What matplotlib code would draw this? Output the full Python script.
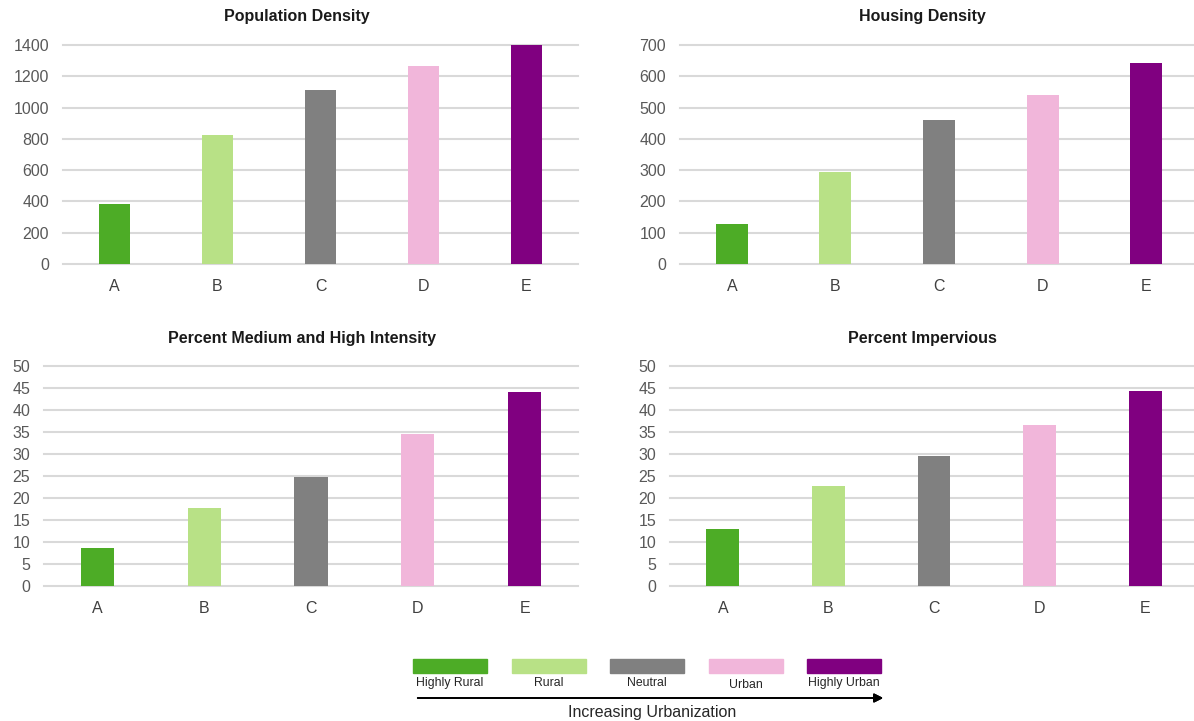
import matplotlib.pyplot as plt
from matplotlib.patches import Rectangle

plt.rcParams['font.family'] = ['Liberation Sans', 'DejaVu Sans']

categories = ['A', 'B', 'C', 'D', 'E']
class_names = ['Highly Rural', 'Rural', 'Neutral', 'Urban', 'Highly Urban']
colors = ['#4dac26', '#b8e186', '#808080', '#f1b6da', '#800080']

population_density = [383, 826, 1111, 1265, 1400]
housing_density = [128, 295, 461, 541, 643]
pct_med_high = [8.6, 17.7, 24.8, 34.5, 44.2]
pct_impervious = [13.0, 22.8, 29.5, 36.5, 44.4]

W, H = 1194, 721
fig = plt.figure(figsize=(W / 100, H / 100), dpi=100)


def px_axes(left, right, top, bottom):
    return fig.add_axes([left / W, 1 - bottom / H, (right - left) / W, (bottom - top) / H])


def bar_panel(ax, values, ymax, step):
    ax.bar(range(len(categories)), values, width=0.31, color=colors, zorder=3)
    ax.set_xlim(-0.5, len(categories) - 0.5)
    ax.set_ylim(0, ymax)
    ax.set_yticks(range(0, ymax + 1, step))
    ax.set_xticks(range(len(categories)))
    ax.set_xticklabels(categories)
    for s in ax.spines.values():
        s.set_visible(False)
    ax.tick_params(axis='y', length=0, pad=10, labelsize=11.5, labelcolor='#595959')
    ax.tick_params(axis='x', length=0, pad=11, labelsize=11.5, labelcolor='#404040')
    ax.yaxis.grid(True, color='#d9d9d9', linewidth=1.5, zorder=0)
    ax.set_axisbelow(True)
    for gl in ax.get_ygridlines():
        gl.set_clip_on(False)


ax1 = px_axes(63, 578, 45, 264)
bar_panel(ax1, population_density, 1400, 200)
ax2 = px_axes(680, 1198, 45, 264)
bar_panel(ax2, housing_density, 700, 100)
ax3 = px_axes(44, 578, 366, 586)
bar_panel(ax3, pct_med_high, 50, 5)
ax4 = px_axes(670, 1198, 366, 586)
bar_panel(ax4, pct_impervious, 50, 5)

titles = [('Population Density', 297, 17), ('Housing Density', 922, 17),
          ('Percent Medium and High Intensity', 302, 338), ('Percent Impervious', 922, 338)]
for t, x, y in titles:
    fig.text(x / W, 1 - y / H, t, ha='center', va='center', fontsize=11.5,
             fontweight='bold', color='#1a1a1a')

# urbanization key along the bottom
lx = [413, 512, 610, 709, 807]
for x0, c, name in zip(lx, colors, class_names):
    fig.patches.append(Rectangle((x0 / W, 1 - 673 / H), 74 / W, 14 / H,
                                 transform=fig.transFigure, color=c))
    ty = 685 if name == 'Urban' else 683
    fig.text((x0 + 37) / W, 1 - ty / H, name, ha='center', va='center',
             fontsize=8.8, color='#262626')

fig.add_artist(plt.annotate('', xy=(886 / W, 1 - 698 / H), xytext=(415 / W, 1 - 698 / H),
                            xycoords='figure fraction',
                            arrowprops=dict(arrowstyle='-|>', color='black', lw=1.3,
                                            mutation_scale=13)))
fig.text(652 / W, 1 - 712 / H, 'Increasing Urbanization', ha='center', va='center',
         fontsize=11.5, color='#262626')

fig.savefig('out.png', dpi=100, facecolor='white')
